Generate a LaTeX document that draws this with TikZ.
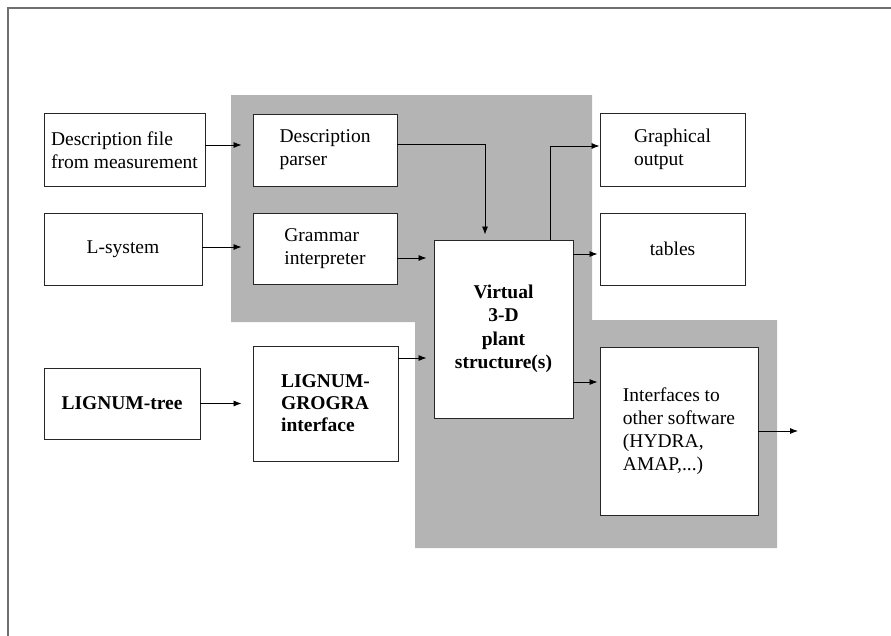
\documentclass[tikz,border=0pt]{standalone}
\usepackage{fontspec}
\setmainfont{Liberation Serif}
\usetikzlibrary{arrows.meta}
\definecolor{panelgray}{RGB}{180,180,180}
\definecolor{framegray}{RGB}{112,112,112}

\begin{document}
\begin{tikzpicture}[x=1pt,y=-1pt,
    box/.style={draw=black!85,fill=white,line width=0.9pt,inner sep=0pt,
      font=\fontsize{19.5}{23}\selectfont},
    arr/.style={-{Latex[length=8pt,width=6pt]},line width=0.8pt}]

    \useasboundingbox (0,0) rectangle (891,635);

    % outer frame
    \draw[framegray,line width=2pt] (8,640) -- (8,8) -- (896,8);

    % shaded area behind the core modules
    \fill[panelgray] (231,95) -- (592,95) -- (592,320) -- (777,320) -- (777,548)
        -- (415,548) -- (415,322) -- (231,322) -- cycle;

    % inputs
    \node[box,minimum width=161pt,minimum height=73pt,align=left] (desc) at (124.5,150) {Description file\\from measurement};
    \node[box,minimum width=158pt,minimum height=72pt] (lsys) at (123,249) {L-system};
    \node[box,minimum width=156pt,minimum height=71pt,font=\fontsize{19.5}{23}\selectfont\bfseries] (lig) at (122,403.5) {LIGNUM-tree};

    % processing modules
    \node[box,minimum width=144pt,minimum height=72pt,align=left] (parser) at (325,150) {Description\\parser};
    \node[box,minimum width=144pt,minimum height=71pt,align=left] (gram) at (325,249) {Grammar\\interpreter};
    \node[box,minimum width=145pt,minimum height=115pt,align=left,font=\fontsize{19.5}{22}\selectfont\bfseries] (ligint) at (325.5,403.5) {LIGNUM-\\GROGRA\\interface};
    \node[box,minimum width=139pt,minimum height=178pt,align=center,font=\fontsize{19.5}{23.5}\selectfont\bfseries] (virt) at (503.5,329) {Virtual\\3-D\\plant\\structure(s)};

    % outputs
    \node[box,minimum width=145pt,minimum height=73pt,align=left] (graph) at (672.5,149.5) {Graphical\\output};
    \node[box,minimum width=145pt,minimum height=72pt] (tab) at (672.5,249) {tables};
    \node[box,minimum width=158pt,minimum height=168pt,align=left] (iface) at (679,431) {Interfaces to\\other software\\(HYDRA,\\AMAP,...)};
    \coordinate (out) at (798,431);

    % connectors
    \draw[arr,shorten >=11pt] ([yshift=5pt]desc.east) -- ([yshift=5pt]parser.west);
    \draw[arr,shorten >=11pt] ([yshift=2pt]lsys.east) -- ([yshift=2pt]gram.west);
    \draw[arr,shorten >=11pt] (lig.east) -- (ligint.west);
    \draw[arr,shorten >=5pt] ([yshift=6pt]parser.east) -| ([xshift=-18.5pt]virt.north);
    \draw[arr,shorten >=7pt] ([yshift=-9pt]gram.east) -- ([yshift=71pt]virt.west);
    \draw[arr,shorten >=7pt] ([yshift=45.5pt]ligint.east) -- ([yshift=-29pt]virt.west);
    \draw[arr] ([xshift=46.5pt]virt.north) |- ([yshift=3.5pt]graph.west);
    \draw[arr,shorten >=2pt] ([yshift=75pt]virt.east) -- ([yshift=-5pt]tab.west);
    \draw[arr,shorten >=2pt] ([yshift=-53pt]virt.east) -- ([yshift=49pt]iface.west);
    \draw[arr] (iface.east) -- (out);

\end{tikzpicture}
\end{document}
